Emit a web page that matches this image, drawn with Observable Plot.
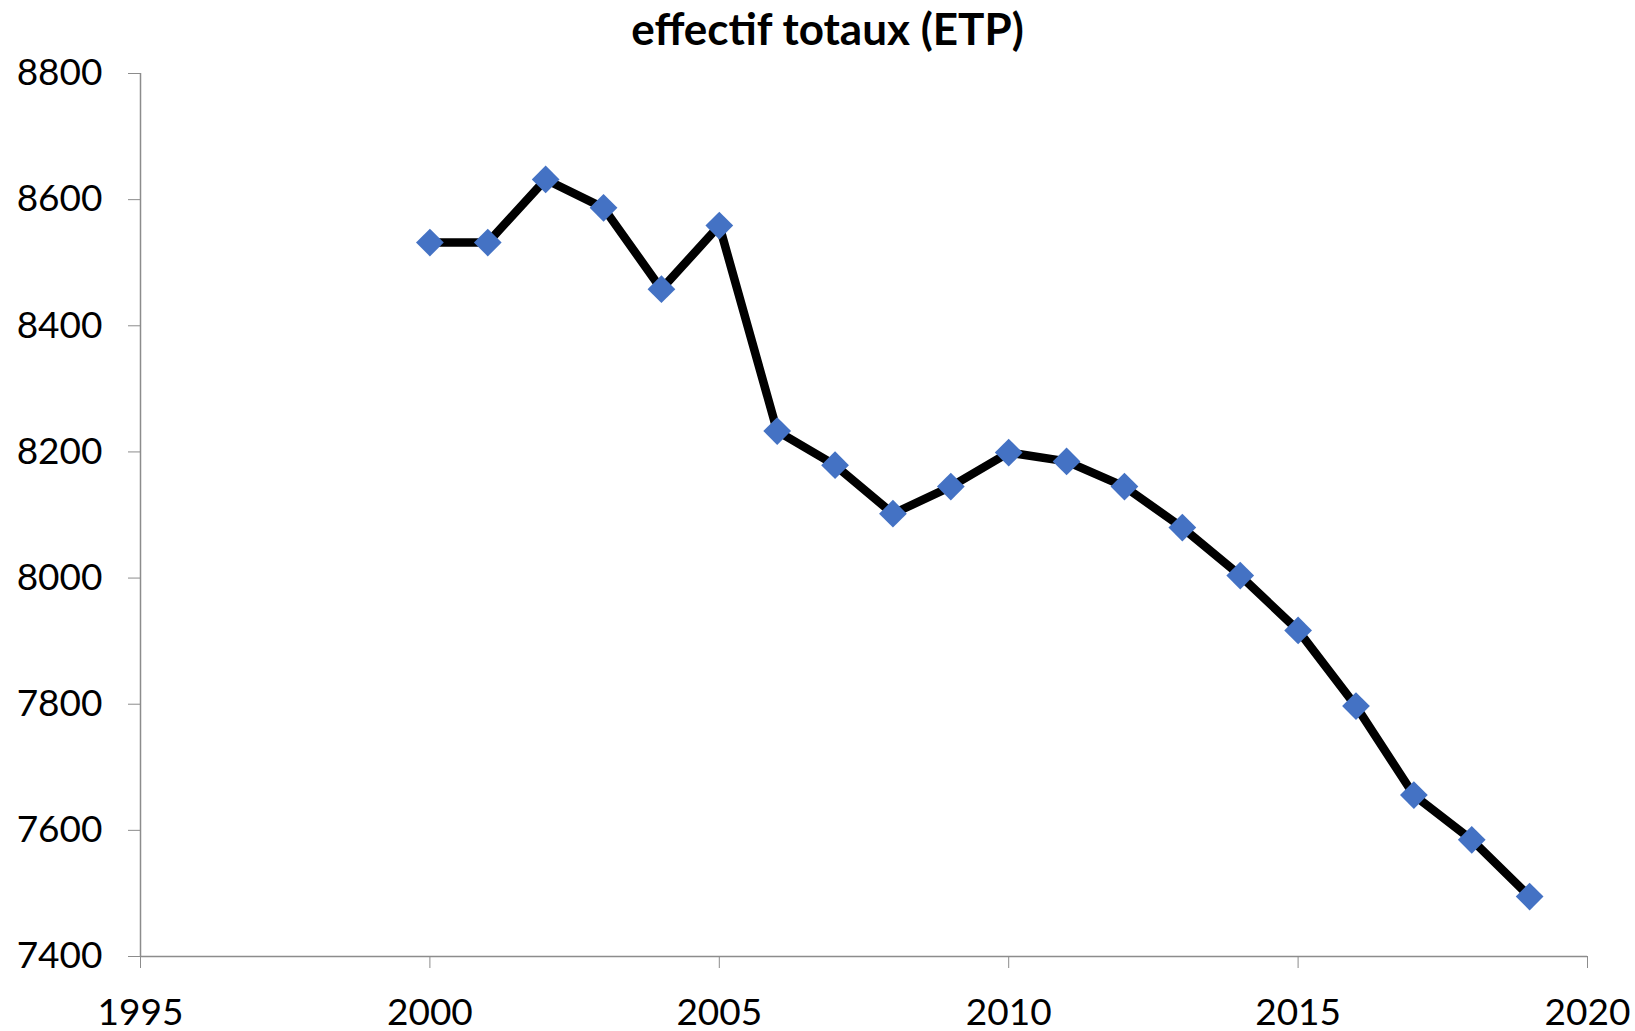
<!DOCTYPE html>
<html>
<head>
<meta charset="utf-8">
<script src="https://cdn.jsdelivr.net/npm/d3@7"></script>
<script src="https://cdn.jsdelivr.net/npm/@observablehq/plot@0.6"></script>
<style>
  html, body { margin: 0; padding: 0; background: #fff; }
  #wrap { width: 1635px; font-family: Lato, "Open Sans", sans-serif; }
  #title { height: 50px; line-height: 56px; text-align: center; font-weight: 700; font-size: 44px; color: #000; padding-left: 20px; box-sizing: border-box; }
  svg { overflow: visible; }
</style>
</head>
<body>
<div id="wrap">
  <div id="title">effectif totaux (ETP)</div>
  <div id="chart"></div>
</div>
<script>
const years = [2000, 2001, 2002, 2003, 2004, 2005, 2006, 2007, 2008, 2009, 2010, 2011, 2012, 2013, 2014, 2015, 2016, 2017, 2018, 2019];
const effectif = [8532, 8532, 8632, 8587, 8458, 8559, 8233, 8179, 8102, 8145, 8199, 8185, 8145, 8080, 8004, 7917, 7797, 7656, 7585, 7495];
const xTicks = [1995, 2000, 2005, 2010, 2015, 2020];
const yTicks = [7400, 7600, 7800, 8000, 8200, 8400, 8600, 8800];

const data = years.map((y, i) => ({year: y, value: effectif[i]}));
const axisGrey = "#8c8c8c";

const chart = Plot.plot({
  width: 1635,
  height: 981,
  marginTop: 23,
  marginBottom: 75,
  marginLeft: 140,
  marginRight: 48,
  style: {fontFamily: "Lato, 'Open Sans', sans-serif", background: "#fff", overflow: "visible"},
  x: {domain: [1995, 2020]},
  y: {domain: [7400, 8800]},
  marks: [
    Plot.ruleX([1995], {stroke: axisGrey, strokeWidth: 1.5}),
    Plot.ruleY([7400], {stroke: axisGrey, strokeWidth: 1.5}),
    Plot.axisY({ticks: yTicks, tickFormat: d => String(d), tickSize: 12, tickPadding: 26, fontSize: 37, stroke: axisGrey, fill: "#000", label: null}),
    Plot.axisX({ticks: xTicks, tickFormat: d => String(d), tickSize: 12, tickPadding: 30, fontSize: 37, stroke: axisGrey, fill: "#000", label: null}),
    Plot.line(data, {x: "year", y: "value", stroke: "#000", strokeWidth: 8.5, strokeLinejoin: "miter"}),
    Plot.dot(data, {x: "year", y: "value", symbol: "diamond2", r: 12.5, fill: "#4472C4", stroke: "none"})
  ]
});
document.getElementById("chart").appendChild(chart);
</script>
</body>
</html>
